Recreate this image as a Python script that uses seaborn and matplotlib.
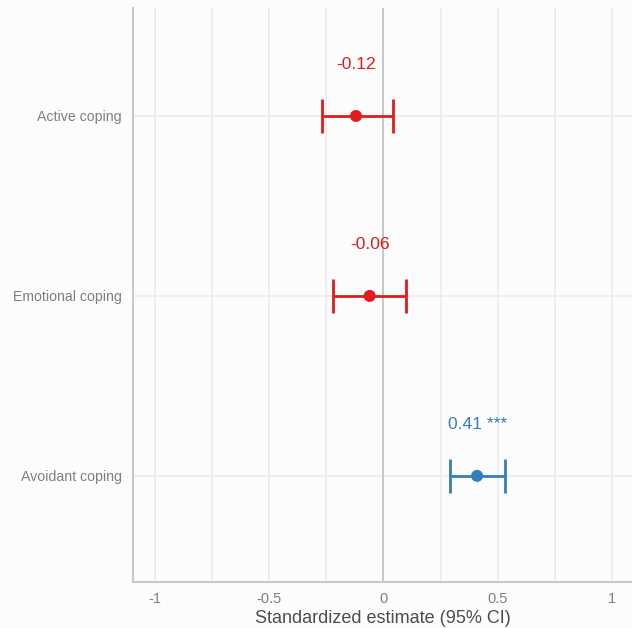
import matplotlib
matplotlib.use("Agg")
import matplotlib.pyplot as plt
import seaborn as sns
import pandas as pd

# Standardized coefficients with 95% confidence intervals
predictors = ["Active coping", "Emotional coping", "Avoidant coping"]
estimates = [-0.12, -0.06, 0.41]
ci_low = [-0.27, -0.22, 0.29]
ci_high = [0.04, 0.10, 0.53]
significance = ["", "", "***"]
x_ticks = [-1, -0.5, 0, 0.5, 1]
x_tick_labels = ["-1", "-0.5", "0", "0.5", "1"]

RED = "#e41a1c"
BLUE = "#377eb8"

df = pd.DataFrame({
    "predictor": predictors,
    "estimate": estimates,
    "low": ci_low,
    "high": ci_high,
    "sig": significance,
})
df["pos"] = range(len(df))
df["direction"] = ["positive" if (l > 0 or h < 0) and e > 0 else "other"
                   for e, l, h in zip(df["estimate"], df["low"], df["high"])]
palette = {"positive": BLUE, "other": RED}

sns.set_theme(style="whitegrid")
plt.rcParams["font.family"] = ["Liberation Sans", "DejaVu Sans"]

fig = plt.figure(figsize=(6.32, 6.28), dpi=100, facecolor="#fcfcfc")
ax = fig.add_axes([0.2104, 0.0732, 0.7896, 0.9141])
ax.set_facecolor("#fcfcfc")

# Confidence interval whiskers
for _, r in df.iterrows():
    c = palette[r["direction"]]
    ax.errorbar(r["estimate"], r["pos"],
                xerr=[[r["estimate"] - r["low"]], [r["high"] - r["estimate"]]],
                fmt="none", ecolor=c, elinewidth=2, capsize=12.5, capthick=2,
                zorder=3)

sns.scatterplot(data=df, x="estimate", y="pos", hue="direction", palette=palette,
                s=75, edgecolor="none", legend=False, ax=ax, zorder=4)

# Value labels above each estimate
for _, r in df.iterrows():
    c = palette[r["direction"]]
    label = f"{r['estimate']:.2f}" + (f" {r['sig']}" if r["sig"] else "")
    ax.text(r["estimate"], r["pos"] - 0.285, label, color=c, fontsize=12.6,
            ha="center", va="center", zorder=5)

ax.axvline(0, color="#c4c4c4", lw=1.3, zorder=1)

ax.set_xlim(-1.096, 1.088)
ax.set_ylim(2.59, -0.6)
ax.set_xticks(x_ticks)
ax.set_xticklabels(x_tick_labels)
ax.set_xticks([-0.75, -0.25, 0.25, 0.75], minor=True)
ax.set_yticks(df["pos"])
ax.set_yticklabels(df["predictor"])

ax.grid(True, which="major", color="#ececec", lw=1.2)
ax.grid(True, which="minor", axis="x", color="#ececec", lw=1.2)
ax.tick_params(axis="both", which="both", length=0, labelsize=10.5,
               labelcolor="#7f7f7f")
ax.tick_params(axis="y", labelsize=10.2, pad=8)
ax.tick_params(axis="x", pad=7)

for side in ["top", "right"]:
    ax.spines[side].set_visible(False)
for side in ["left", "bottom"]:
    ax.spines[side].set_visible(True)
    ax.spines[side].set_color("#c8c8c8")
    ax.spines[side].set_linewidth(1.5)

ax.set_xlabel("Standardized estimate (95% CI)", fontsize=13, color="#4d4d4d",
              labelpad=3)
ax.set_ylabel("")

fig.savefig("out.png", dpi=100, facecolor=fig.get_facecolor())
